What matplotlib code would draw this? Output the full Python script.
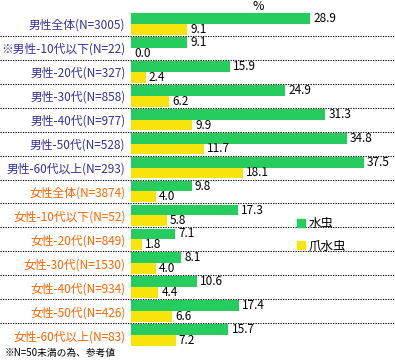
import matplotlib
matplotlib.use('Agg')
import matplotlib.pyplot as plt
from matplotlib.patches import Patch
from matplotlib.transforms import blended_transform_factory
import numpy as np

plt.rcParams['font.family'] = ['Noto Sans CJK JP', 'DejaVu Sans']

# data
groups = ['男性全体(N=3005)', '※男性-10代以下(N=22)', '男性-20代(N=327)',
          '男性-30代(N=858)', '男性-40代(N=977)', '男性-50代(N=528)',
          '男性-60代以上(N=293)', '女性全体(N=3874)', '女性-10代以下(N=52)',
          '女性-20代(N=849)', '女性-30代(N=1530)', '女性-40代(N=934)',
          '女性-50代(N=426)', '女性-60代以上(N=83)']
mizumushi = [28.9, 9.1, 15.9, 24.9, 31.3, 34.8, 37.5,
             9.8, 17.3, 7.1, 8.1, 10.6, 17.4, 15.7]
tsume = [9.1, 0.0, 2.4, 6.2, 9.9, 11.7, 18.1,
         4.0, 5.8, 1.8, 4.0, 4.4, 6.6, 7.2]
series_names = ['水虫', '爪水虫']

green = '#26cc5e'
yellow = '#f7e40a'
male_col = '#333399'
female_col = '#ff6600'

W, H = 395, 360
fig = plt.figure(figsize=(W / 100, H / 100), dpi=100)
ax = fig.add_axes([131 / W, 1 - 347 / H, (W - 131) / W, (347 - 12) / H])

y = np.arange(len(groups))
bh = 0.45
ax.barh(y - bh / 2, mizumushi, height=bh, color=green)
ax.barh(y + bh / 2, tsume, height=bh, color=yellow)

for i in range(len(groups)):
    ax.text(mizumushi[i] + 0.5, y[i] - bh / 2, '%.1f' % mizumushi[i],
            va='center', ha='left', fontsize=8.5, color='black')
    ax.text(tsume[i] + 0.5, y[i] + bh / 2, '%.1f' % tsume[i],
            va='center', ha='left', fontsize=8.5, color='black')

ax.set_xlim(0, (W - 131) / 6.2)
ax.set_ylim(len(groups) - 0.5, -0.5)
ax.set_yticks(y)
ax.set_yticklabels(groups, fontsize=8.5)
for i, t in enumerate(ax.get_yticklabels()):
    t.set_color(male_col if i < 7 else female_col)
ax.tick_params(axis='y', length=0, pad=4)
ax.set_xticks([])
for s in ax.spines.values():
    s.set_visible(False)

# dotted separators across the full width
tr = blended_transform_factory(fig.transFigure, ax.transData)
for i in range(len(groups) - 1):
    ax.plot([0, 1], [i + 0.5, i + 0.5], transform=tr, color='black',
            linestyle=(0, (1.2, 1.2)), linewidth=0.75, clip_on=False)

handles = [Patch(color=green), Patch(color=yellow)]
fig.legend(handles, series_names, loc='upper left',
           bbox_to_anchor=(292 / W, 1 - 212 / H), frameon=False,
           fontsize=9, handlelength=0.6, handleheight=0.6,
           handletextpad=0.3, labelspacing=0.75, borderaxespad=0)

fig.text(258 / W, 1 - 6 / H, '%', ha='center', va='center', fontsize=9)
fig.text(5 / W, 1 - 353 / H, '※N=50未満の為、参考値', ha='left', va='center',
         fontsize=7)

fig.savefig('out.png', dpi=100)
